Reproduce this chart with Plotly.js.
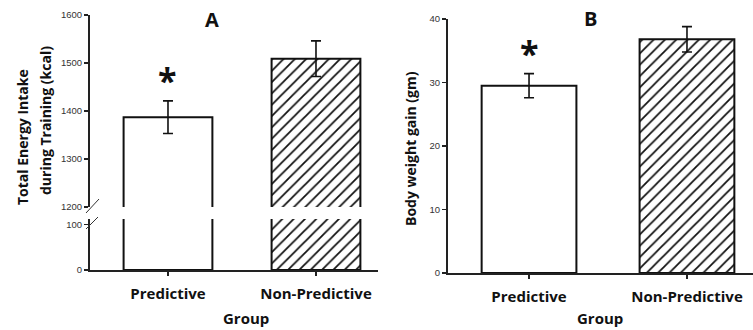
<!DOCTYPE html>
<html>
<head>
<meta charset="utf-8">
<script src="https://cdn.plot.ly/plotly-3.0.1.min.js"></script>
<style>html,body{margin:0;padding:0;background:#fff;} #chart{width:753px;height:330px;}</style>
</head>
<body>
<div id="chart"></div>
<script>
// ---- data ----
const groups = ["Predictive", "Non-Predictive"];
const energyIntake = [1387, 1509];      // kcal
const energyIntakeErr = [34, 37];
const weightGain = [29.5, 36.8];        // gm
const weightGainErr = [1.9, 2.0];
const energyTicksUpper = [1200, 1300, 1400, 1500, 1600];
const energyTicksLower = [0, 100];
const weightTicks = [0, 10, 20, 30, 40];
const patterns = ["", "/"];

// ---- layout helpers (pixel -> paper) ----
const W = 753, H = 330;
const px = v => v / W;
const py = v => 1 - v / H;

const barMarker = {
  color: "#ffffff",
  line: {color: "#111", width: 2},
  pattern: {shape: patterns, fgcolor: "#111", bgcolor: "#ffffff", size: 8, solidity: 0.22}
};
const errStyle = arr => ({type: "data", array: arr, visible: true, color: "#111", thickness: 1.6, width: 5});

const traces = [
  {type: "bar", x: groups, y: energyIntake, xaxis: "x", yaxis: "y", width: 0.6, marker: barMarker, hoverinfo: "none"},
  {type: "bar", x: groups, y: energyIntake, xaxis: "x", yaxis: "y2", width: 0.6, marker: barMarker,
   error_y: errStyle(energyIntakeErr), hoverinfo: "none"},
  {type: "bar", x: groups, y: weightGain, xaxis: "x2", yaxis: "y3", width: 0.6, marker: barMarker,
   error_y: errStyle(weightGainErr), hoverinfo: "none"}
];

const tickFont = {family: "Liberation Sans Narrow, Arial Narrow, sans-serif", size: 9.5, color: "#333"};
const boldFont = {family: "Open Sans, sans-serif", size: 14, color: "#111", weight: "bold"};
const catFont = Object.assign({}, boldFont, {size: 15});
const yBase = {
  showline: true, linecolor: "#222", linewidth: 2, ticks: "outside", ticklen: 4, tickwidth: 1.2,
  tickcolor: "#222", showgrid: false, zeroline: false, tickfont: tickFont, fixedrange: true
};
const xBase = {
  type: "category", showline: true, linecolor: "#222", linewidth: 2, ticks: "outside", ticklen: 4,
  tickwidth: 1.2, tickcolor: "#222", showgrid: false, zeroline: false, tickfont: catFont, fixedrange: true,
  ticklabelstandoff: 5
};

const ann = (text, x, y, extra) => Object.assign({
  text: text, x: x, y: y, xref: "paper", yref: "paper", showarrow: false,
  xanchor: "center", yanchor: "middle", font: boldFont
}, extra || {});

const layout = {
  width: W, height: H,
  margin: {l: 0, r: 0, t: 0, b: 0},
  paper_bgcolor: "#fff", plot_bgcolor: "rgba(0,0,0,0)",
  showlegend: false, bargap: 0.4,
  xaxis: Object.assign({}, xBase, {domain: [px(90), px(378)], anchor: "y", range: [-0.527, 1.419]}),
  yaxis: Object.assign({}, yBase, {domain: [py(270), py(219)], range: [0, 113], tickvals: energyTicksLower, anchor: "x"}),
  yaxis2: Object.assign({}, yBase, {domain: [py(207), py(15)], range: [1200, 1600], tickvals: energyTicksUpper, anchor: "x"}),
  xaxis2: Object.assign({}, xBase, {domain: [px(448), 1], anchor: "y3", range: [-0.513, 1.418]}),
  yaxis3: Object.assign({}, yBase, {domain: [py(273), py(19)], range: [0, 40], tickvals: weightTicks, anchor: "x2"}),
  shapes: [
    {type: "line", xref: "paper", yref: "paper", x0: px(86), y0: py(213), x1: px(99), y1: py(199), line: {color: "#333", width: 1}},
    {type: "line", xref: "paper", yref: "paper", x0: px(86), y0: py(229), x1: px(98), y1: py(217), line: {color: "#333", width: 1}}
  ],
  annotations: [
    ann("A", px(212), py(20), {font: Object.assign({}, boldFont, {size: 20})}),
    ann("B", px(590), py(18), {font: Object.assign({}, boldFont, {size: 20})}),
    ann("*", 0, energyIntake[0] + energyIntakeErr[0], {xref: "x", yref: "y2", yanchor: "bottom", yshift: -4,
        font: Object.assign({}, boldFont, {size: 34})}),
    ann("*", 0, weightGain[0] + weightGainErr[0], {xref: "x2", yref: "y3", yanchor: "bottom", yshift: -4,
        font: Object.assign({}, boldFont, {size: 34})}),
    ann("Total Energy Intake", px(22), py(137), {textangle: -90}),
    ann("during Training (kcal)", px(45), py(121), {textangle: -90}),
    ann("Body weight gain (gm)", px(410), py(148), {textangle: -90}),
    ann("Group", px(246), py(318), {font: catFont}),
    ann("Group", px(600), py(318), {font: catFont})
  ]
};

Plotly.newPlot("chart", traces, layout, {staticPlot: true, displayModeBar: false});
</script>
</body>
</html>
